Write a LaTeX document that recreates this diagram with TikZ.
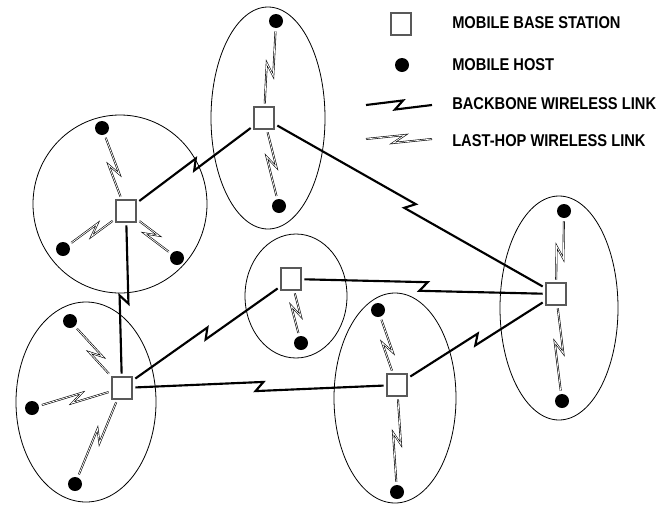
\documentclass[tikz,border=0pt]{standalone}
\usepackage{fontspec}
\newfontfamily\legendfont[FakeStretch=0.86]{Liberation Sans}
\usepackage{tikz}
\usetikzlibrary{calc}

\begin{document}
\begin{tikzpicture}[x=0.75pt,y=-0.75pt,
	bs/.style={draw=black!65,line width=0.8pt,fill=white,minimum width=15pt,minimum height=16.5pt,inner sep=0pt,outer sep=2.5pt},
	host/.style={circle,fill=black,minimum size=10.5pt,inner sep=0pt,outer sep=2.5pt},
	cell/.style={line width=0.6pt},
	backbone/.style={line width=1.6pt,line join=miter,to path={
		-- ($(\tikztostart)!.5!(\tikztotarget)!3pt!(\tikztotarget)!3.4pt!90:(\tikztotarget)$)
		-- ($(\tikztostart)!.5!(\tikztotarget)!-3pt!(\tikztotarget)!-3.4pt!90:(\tikztotarget)$)
		-- (\tikztotarget)}},
	lasthop/.style={double,double distance=0.55pt,line width=0.45pt,line join=miter,to path={
		-- ($(\tikztostart)!.5!(\tikztotarget)!4.5pt!(\tikztotarget)!3pt!90:(\tikztotarget)$)
		-- ($(\tikztostart)!.5!(\tikztotarget)!-4.5pt!(\tikztotarget)!-3pt!90:(\tikztotarget)$)
		-- (\tikztotarget)}},
	legendtext/.style={anchor=west,inner sep=0pt,font=\legendfont\bfseries\fontsize{12.8pt}{14pt}\selectfont}]
\useasboundingbox (0,0) rectangle (671,504);

% cells
\draw[cell] (268,118) ellipse [x radius=57, y radius=111];
\draw[cell] (120,204) ellipse [x radius=87, y radius=89];
\draw[cell] (86,402) ellipse [x radius=70, y radius=100];
\draw[cell] (296,296) ellipse [x radius=51, y radius=62];
\draw[cell] (395,398) ellipse [x radius=61, y radius=105];
\draw[cell] (559,308) ellipse [x radius=59, y radius=112];

% stations and hosts
\foreach \n/\p in {bsT/{264,118},bsUL/{126,211},bsLL/{122,388},bsM/{291,279},bsLM/{397,385},bsR/{556,294}} {
	\node[bs] (\n) at (\p) {};
}
\foreach \n/\p in {hT1/{276,21},hT2/{279,206},hUL1/{102,128},hUL2/{63,249},hUL3/{177,258},
	hLL1/{70,321},hLL2/{32,408},hLL3/{75,484},hM1/{301,343},hLM1/{378,310},hLM2/{397,492},
	hR1/{564,211},hR2/{562,401}} {
	\node[host] (\n) at (\p) {};
}

% links
\foreach \a/\b in {bsUL/bsT,bsT/bsR,bsUL/bsLL,bsLL/bsM,bsLL/bsLM,bsM/bsR,bsLM/bsR} {
	\draw[backbone] (\a) to (\b);
}
\foreach \h/\b in {hT1/bsT,hT2/bsT,hUL1/bsUL,hUL2/bsUL,hUL3/bsUL,hLL1/bsLL,hLL2/bsLL,hLL3/bsLL,
	hM1/bsM,hLM1/bsLM,hLM2/bsLM,hR1/bsR,hR2/bsR} {
	\draw[lasthop] (\h) to (\b);
}

% legend
\node[bs] (keybs) at (401,24) {};
\node[host] (keyhost) at (402,65) {};
\coordinate (kb1) at (366,105); \coordinate (kb2) at (432,105);
\coordinate (kl1) at (366,139); \coordinate (kl2) at (432,139);
\draw[backbone] (kb1) to (kb2);
\draw[lasthop] (kl1) to (kl2);
\node[legendtext] (tbs) at (452,23) {MOBILE BASE STATION};
\node[legendtext] (thost) at (452,65) {MOBILE HOST};
\node[legendtext] (tbb) at (452,104) {BACKBONE WIRELESS LINK};
\node[legendtext] (tlh) at (452,141) {LAST-HOP WIRELESS LINK};
\end{tikzpicture}
\end{document}
